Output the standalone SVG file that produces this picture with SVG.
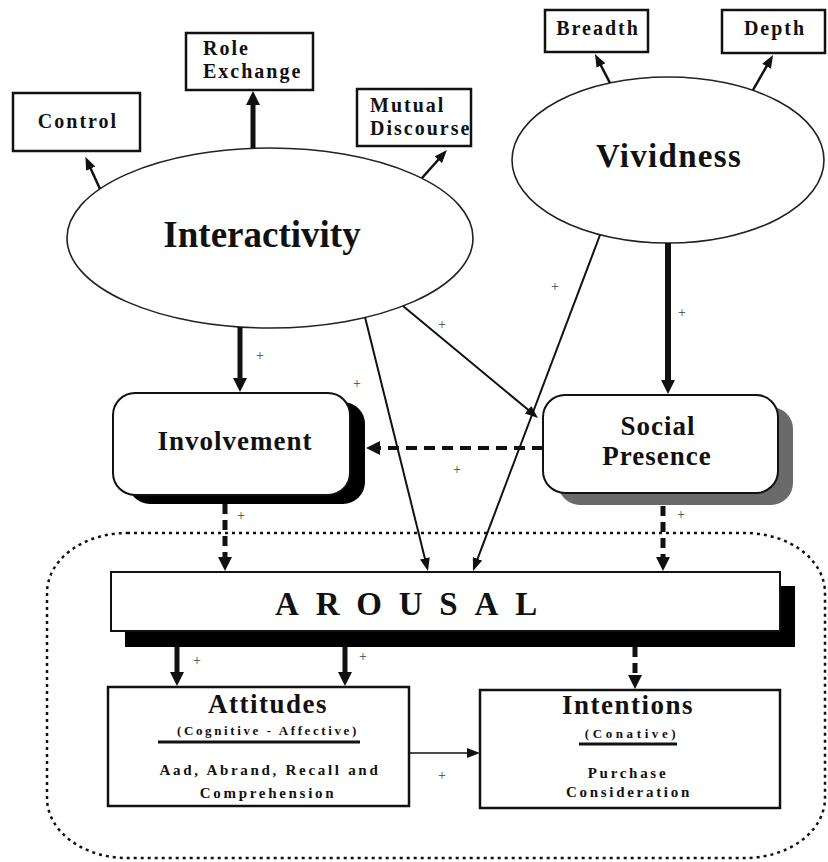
<svg xmlns="http://www.w3.org/2000/svg" width="828" height="862" viewBox="0 0 828 862">
<style>
.t{font-family:"Liberation Serif","Times New Roman",serif;font-weight:bold;fill:#111}
.sm{font-size:20px;letter-spacing:2px}
.big{font-size:37px}
.md{font-size:27px;letter-spacing:1px}
.bx{fill:#fff;stroke:#111;stroke-width:2.5}
.el{fill:#fff;stroke:#222;stroke-width:1.6}
.ln{fill:none;stroke:#111}
.thin{stroke-width:2}
.thk{stroke-width:5}
.dash{stroke-width:5;stroke-dasharray:10 6}
.pl{font-family:"Liberation Serif",serif;font-size:14px;fill:#444;text-anchor:middle}
.sub{font-size:13px}
.body{font-size:15px;letter-spacing:2.7px}
</style>
<defs>
<marker id="ah" markerUnits="userSpaceOnUse" markerWidth="14" markerHeight="10" refX="3" refY="5" orient="auto"><path d="M0,0 L13,5 L0,10 z" fill="#111"/></marker>
<marker id="ahb" markerUnits="userSpaceOnUse" markerWidth="15" markerHeight="14" refX="3" refY="7" orient="auto"><path d="M0,0 L14,7 L0,14 z" fill="#111"/></marker>
</defs>

<rect id="region" x="47" y="533" width="778" height="325" rx="80" ry="60" fill="none" stroke="#111" stroke-width="2.5" stroke-dasharray="3 4"/>

<g id="control"><rect class="bx" x="13" y="93" width="127" height="58"/><text class="t sm" x="78" y="128" text-anchor="middle">Control</text></g>
<g id="role-exchange"><rect class="bx" x="186" y="33" width="127" height="57"/><text class="t sm" x="203" y="55">Role</text><text class="t sm" x="203" y="78">Exchange</text></g>
<g id="mutual-discourse"><rect class="bx" x="357" y="89" width="114" height="57"/><text class="t sm" x="370" y="112">Mutual</text><text class="t sm" x="370" y="135">Discourse</text></g>
<g id="breadth"><rect class="bx" x="545" y="10" width="103" height="42"/><text class="t sm" x="598" y="35" text-anchor="middle">Breadth</text></g>
<g id="depth"><rect class="bx" x="722" y="10" width="103" height="43"/><text class="t sm" x="775" y="35" text-anchor="middle">Depth</text></g>

<g id="interactivity"><ellipse class="el" cx="270" cy="238" rx="203" ry="90"/><text class="t big" x="262" y="247" text-anchor="middle">Interactivity</text></g>
<g id="vividness"><ellipse class="el" cx="668" cy="160" rx="156" ry="83"/><text class="t" style="font-size:33px;letter-spacing:1.3px" x="669" y="167" text-anchor="middle">Vividness</text></g>

<g id="involvement"><rect x="128" y="402" width="237" height="102" rx="22" fill="#000"/><rect x="113" y="393" width="237" height="102" rx="22" fill="#fff" stroke="#111" stroke-width="2"/><text class="t md" x="235" y="450" text-anchor="middle">Involvement</text></g>
<g id="social-presence"><rect x="558" y="407" width="235" height="98" rx="22" fill="#6a6a6a"/><rect x="543" y="395" width="235" height="98" rx="22" fill="#fff" stroke="#111" stroke-width="2"/><text class="t md" x="658" y="435" text-anchor="middle">Social</text><text class="t md" x="657" y="465" text-anchor="middle">Presence</text></g>

<g id="arousal"><rect x="125" y="586" width="670" height="61" fill="#000"/><rect x="111" y="572" width="669" height="59" fill="#fff" stroke="#111" stroke-width="2"/><text class="t" style="font-size:33px;letter-spacing:16.8px" x="275" y="615">AROUSAL</text></g>

<g id="attitudes"><rect class="bx" x="108" y="687" width="301" height="119"/><text class="t" style="font-size:27px;letter-spacing:1.5px" x="268" y="713" text-anchor="middle">Attitudes</text><text class="t sub" style="letter-spacing:2.6px" x="268" y="735" text-anchor="middle">(Cognitive - Affective)</text><line x1="158" y1="742" x2="360" y2="742" stroke="#111" stroke-width="3"/><text class="t body" x="270" y="775" text-anchor="middle">Aad, Abrand, Recall and</text><text class="t body" x="268" y="798" text-anchor="middle">Comprehension</text></g>
<g id="intentions"><rect class="bx" x="480" y="690" width="300" height="118"/><text class="t" style="font-size:27px;letter-spacing:1.5px" x="628" y="714" text-anchor="middle">Intentions</text><text class="t sub" style="letter-spacing:3.6px" x="632" y="738" text-anchor="middle">(Conative)</text><line x1="579" y1="744" x2="677" y2="744" stroke="#111" stroke-width="3"/><text class="t body" x="628" y="778" text-anchor="middle">Purchase</text><text class="t body" x="629" y="797" text-anchor="middle">Consideration</text></g>

<g id="connectors">
<line class="ln" stroke-width="2.5" x1="100" y1="189" x2="89.5" y2="165.9" marker-end="url(#ah)"/>
<line class="ln thk" x1="253" y1="148" x2="253" y2="102" marker-end="url(#ahb)"/>
<line class="ln" stroke-width="2.5" x1="422" y1="178" x2="440.3" y2="157.5" marker-end="url(#ah)"/>
<line class="ln" stroke-width="2.5" x1="610" y1="83" x2="599.6" y2="62.9" marker-end="url(#ah)"/>
<line class="ln" stroke-width="2.5" x1="753" y1="90" x2="768.1" y2="63.7" marker-end="url(#ah)"/>
<line class="ln thk" x1="240" y1="327" x2="240" y2="381" marker-end="url(#ahb)"/>
<line class="ln" stroke-width="6" x1="668" y1="243" x2="668" y2="383" marker-end="url(#ahb)"/>
<line class="ln thin" x1="365" y1="317" x2="425.6" y2="561.3" marker-end="url(#ah)"/>
<line class="ln thin" x1="600" y1="235" x2="476.5" y2="561.6" marker-end="url(#ah)"/>
<line class="ln thin" x1="403" y1="306" x2="530.3" y2="411.6" marker-end="url(#ah)"/>
<line class="ln" stroke-width="4" stroke-dasharray="11 7" x1="543" y1="448" x2="377" y2="448" marker-end="url(#ahb)"/>
<line class="ln dash" x1="225" y1="504" x2="225" y2="560" marker-end="url(#ahb)"/>
<line class="ln dash" x1="663" y1="506" x2="663" y2="560" marker-end="url(#ahb)"/>
<line class="ln thk" x1="177" y1="647" x2="177" y2="675" marker-end="url(#ahb)"/>
<line class="ln thk" x1="345" y1="647" x2="345" y2="675" marker-end="url(#ahb)"/>
<line class="ln dash" x1="635" y1="647" x2="635" y2="678" marker-end="url(#ahb)"/>
<line class="ln" stroke-width="1.5" x1="409" y1="753" x2="470" y2="753" marker-end="url(#ah)"/>
</g>

<g id="labels">
<text class="pl" x="260" y="360">+</text>
<text class="pl" x="357" y="388">+</text>
<text class="pl" x="442" y="329">+</text>
<text class="pl" x="555" y="291">+</text>
<text class="pl" x="682" y="317">+</text>
<text class="pl" x="457" y="474">+</text>
<text class="pl" x="241" y="520">+</text>
<text class="pl" x="681" y="519">+</text>
<text class="pl" x="197" y="665">+</text>
<text class="pl" x="363" y="661">+</text>
<text class="pl" x="442" y="780">+</text>
</g>
</svg>
